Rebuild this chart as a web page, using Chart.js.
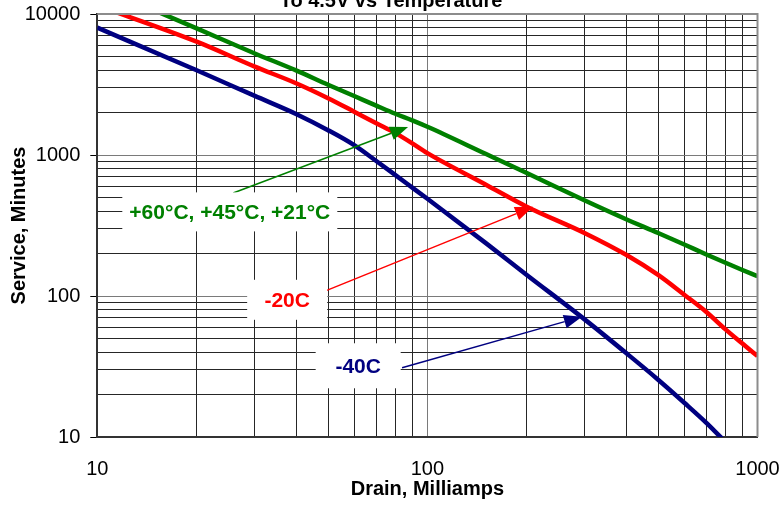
<!DOCTYPE html>
<html>
<head>
<meta charset="utf-8">
<script src="https://cdn.jsdelivr.net/npm/chart.js@4.4.1/dist/chart.umd.min.js"></script>
<style>
	html, body { margin: 0; padding: 0; background: #fff; overflow: hidden; }
</style>
</head>
<body>
<canvas id="myChart" width="782" height="506"></canvas>
<script>
/* globals Chart:false */
// service minutes vs drain current, log-log, one curve per temperature
const drainMa = [10, 20, 30, 40, 50, 60, 70, 80, 90, 100, 150, 200, 300, 400, 500, 600, 700, 800, 900, 1000];
const warmMinutes = [15800, 7900, 5250, 3980, 3150, 2620, 2240, 1960, 1760, 1585, 1020, 745, 475, 350, 280, 232, 197, 172, 153, 138];
const minus20Minutes = [11500, 6370, 4235, 3230, 2530, 2030, 1680, 1430, 1210, 1030, 618, 430, 279, 196, 141, 102, 77, 58, 46, 37.5];
const minus40Minutes = [8000, 3990, 2625, 1955, 1500, 1175, 907, 720, 587, 489, 238, 141, 68, 39.4, 25.5, 17.5, 12.6, 9.2, null, null];

const xTickLabels = [10, 100, 1000];
const yTickLabels = [10, 100, 1000, 10000];

// callouts, anchored in data units
const callouts = [
	{ text: "+60°C, +45°C, +21°C", color: "#008000", at: [25.2, 395], box: [215, 39], tail: [25.8, 538], head: [87.4, 1582] },
	{ text: "-20C", color: "#ff0000", at: [37.6, 94], box: [80, 40], tail: [48.3, 107], head: [209, 429] },
	{ text: "-40C", color: "#000080", at: [61.7, 32], box: [85, 45], tail: [83.8, 31], head: [294, 71.3] },
];

const FONT = "'Liberation Sans', Arial, sans-serif";

function logTicks(min, max) {
	const out = [];
	for (let d = min; d < max; d *= 10) {
		for (let k = 1; k < 10; k++) out.push({ value: d * k });
	}
	out.push({ value: max });
	return out;
}

function series(vals) {
	return drainMa.map((x, i) => ({ x, y: vals[i] })).filter((p) => p.y !== null);
}

function noPad(s) {
	s.paddingLeft = 0;
	s.paddingRight = 0;
	s.paddingTop = 0;
	s.paddingBottom = 0;
}

function drawArrow(ctx, x0, y0, x1, y1, color) {
	const ang = Math.atan2(y1 - y0, x1 - x0);
	const len = 18, half = 7;
	const bx = x1 - len * Math.cos(ang), by = y1 - len * Math.sin(ang);
	ctx.strokeStyle = color;
	ctx.lineWidth = 1.5;
	ctx.beginPath();
	ctx.moveTo(x0, y0);
	ctx.lineTo(bx, by);
	ctx.stroke();
	ctx.fillStyle = color;
	ctx.beginPath();
	ctx.moveTo(x1, y1);
	ctx.lineTo(bx + half * Math.sin(ang), by - half * Math.cos(ang));
	ctx.lineTo(bx - half * Math.sin(ang), by + half * Math.cos(ang));
	ctx.closePath();
	ctx.fill();
}

const extras = {
	id: "extras",
	afterDatasetsDraw(chart) {
		const { ctx, chartArea: a, scales } = chart;
		const px = (v) => scales.x.getPixelForValue(v);
		const py = (v) => scales.y.getPixelForValue(v);
		ctx.save();
		// top & right frame
		ctx.strokeStyle = "#8c8c8c";
		ctx.lineWidth = 2;
		ctx.beginPath();
		ctx.moveTo(a.left, a.top);
		ctx.lineTo(a.right, a.top);
		ctx.lineTo(a.right, a.bottom);
		ctx.stroke();

		callouts.forEach((c) => {
			drawArrow(ctx, px(c.tail[0]), py(c.tail[1]), px(c.head[0]), py(c.head[1]), c.color);
		});
		callouts.forEach((c) => {
			const cx = px(c.at[0]), cy = py(c.at[1]);
			ctx.fillStyle = "#fff";
			ctx.fillRect(cx - c.box[0] / 2, cy - c.box[1] / 2, c.box[0], c.box[1]);
			ctx.fillStyle = c.color;
			ctx.font = "bold 21px " + FONT;
			ctx.textAlign = "center";
			ctx.textBaseline = "middle";
			ctx.fillText(c.text, cx, cy + 1);
		});

		// title, clipped by the top edge
		ctx.fillStyle = "#000";
		ctx.font = "bold 20px " + FONT;
		ctx.textAlign = "center";
		ctx.textBaseline = "alphabetic";
		ctx.fillText("To 4.5V vs Temperature", chart.width / 2, 6.5);
		ctx.restore();
	},
};

const isMajor = (v) => Math.abs(Math.log10(v) - Math.round(Math.log10(v))) < 1e-9;

(() => {
	"use strict";
	const ctx = document.getElementById("myChart");
	// eslint-disable-next-line no-unused-vars
	const myChart = new Chart(ctx, {
		type: "line",
		data: {
			datasets: [
				{ label: "-40C", data: series(minus40Minutes), borderColor: "#000080" },
				{ label: "-20C", data: series(minus20Minutes), borderColor: "#ff0000" },
				{ label: "+60°C, +45°C, +21°C", data: series(warmMinutes), borderColor: "#008000" },
			],
		},
		options: {
			responsive: false,
			animation: false,
			layout: { padding: { top: 14, right: 24.5, left: 0, bottom: 0 } },
			elements: {
				point: { radius: 0 },
				line: { borderWidth: 4.5, cubicInterpolationMode: "monotone", fill: false },
			},
			plugins: {
				legend: { display: false },
				tooltip: { enabled: false },
			},
			scales: {
				x: {
					type: "logarithmic",
					min: 10,
					max: 1000,
					afterBuildTicks: (s) => { s.ticks = logTicks(10, 1000); },
					afterFit: (s) => { s.height = 69; noPad(s); },
					grid: {
						drawTicks: false,
						color: (c) => (isMajor(c.tick.value) ? "#7a7a7a" : "#262626"),
						lineWidth: 1,
					},
					border: { color: "#333", width: 2 },
					ticks: {
						autoSkip: false,
						maxRotation: 0,
						padding: 20,
						color: "#000",
						font: { family: FONT, size: 20 },
						callback: (v) => (xTickLabels.includes(v) ? String(v) : ""),
					},
					title: {
						display: true,
						text: "Drain, Milliamps",
						color: "#000",
						font: { family: FONT, size: 20, weight: "bold" },
						padding: { top: 0, bottom: 5 },
					},
				},
				y: {
					type: "logarithmic",
					min: 10,
					max: 10000,
					afterBuildTicks: (s) => { s.ticks = logTicks(10, 10000); },
					afterFit: (s) => { s.width = 97.3; noPad(s); },
					grid: {
						drawTicks: true,
						tickLength: 7,
						tickColor: (c) => (isMajor(c.tick.value) ? "#000" : "rgba(0,0,0,0)"),
						color: (c) => (isMajor(c.tick.value) ? "#7a7a7a" : "#262626"),
						lineWidth: 1,
					},
					border: { color: "#333", width: 2 },
					ticks: {
						autoSkip: false,
						padding: 10,
						color: "#000",
						font: { family: FONT, size: 20 },
						callback: (v) => (yTickLabels.includes(v) ? String(v) : ""),
					},
					title: {
						display: true,
						text: "Service, Minutes",
						color: "#000",
						font: { family: FONT, size: 20, weight: "bold" },
						padding: { top: 7, bottom: 0 },
					},
				},
			},
		},
		plugins: [extras],
	});
})();
</script>
</body>
</html>
